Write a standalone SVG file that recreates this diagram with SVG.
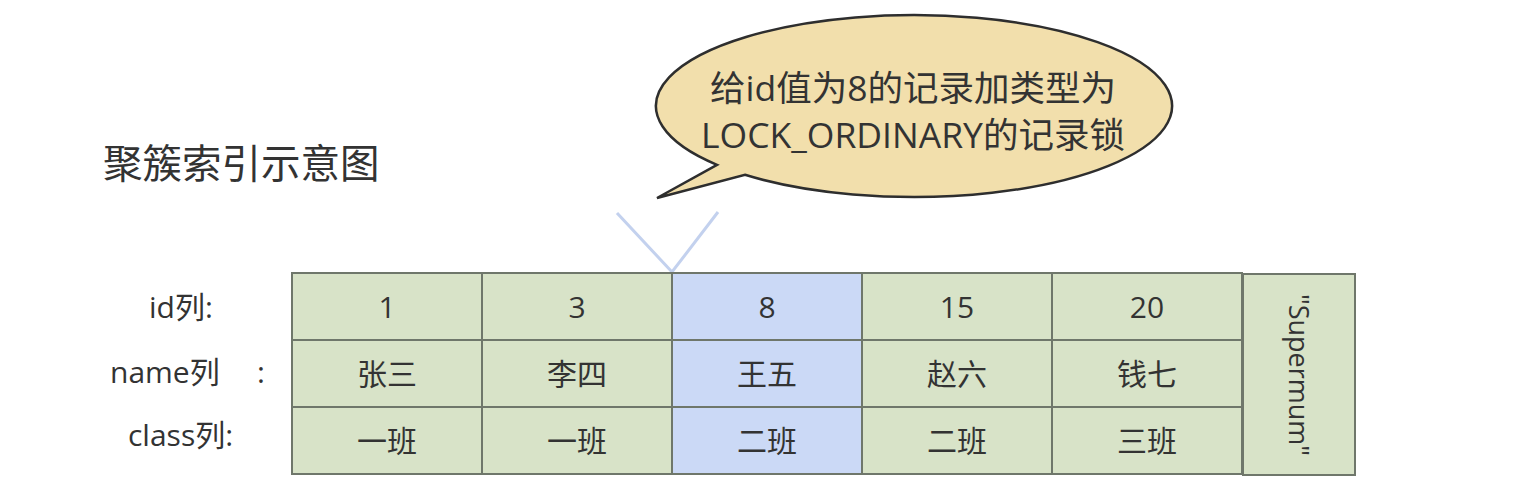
<svg xmlns="http://www.w3.org/2000/svg" width="1528" height="498" viewBox="0 0 1528 498">
<style>
text{font-family:"Open Sans","Noto Sans CJK SC",sans-serif;fill:#333;}
.t{font-size:30px;text-anchor:middle;}
.l{font-size:30px;}
.g{fill:#d8e3c8;stroke:#6f776b;stroke-width:2;}
.b{fill:#cbd9f6;stroke:#6f776b;stroke-width:2;}
</style>
<rect width="1528" height="498" fill="#fff"/>
<text x="103" y="178" style="font-size:39.5px;">聚簇索引示意图</text>
<g id="bubble">
<path d="M717,164.8 A258 91 0 1 1 745,174.8 L657,198 Z" fill="#f2dfac" stroke="#2e2e2e" stroke-width="2.5"/>
<text class="t" x="913" y="101" style="font-size:35.5px;">给id值为8的记录加类型为</text>
<text class="t" x="913" y="148" style="font-size:35.5px;">LOCK_ORDINARY的记录锁</text>
</g>
<g id="connectors">
<path d="M617,213 L672,272 L718,212" fill="none" stroke="#c3d1ee" stroke-width="3"/>
</g>
<g id="labels">
<text class="l" x="149" y="318">id列:</text>
<text class="l" x="110" y="383">name列</text>
<text class="l" x="257" y="383">:</text>
<text class="l" x="128" y="446">class列:</text>
</g>
<g id="col1">
<rect class="g" x="292" y="273" width="190" height="67"/>
<rect class="g" x="292" y="340" width="190" height="67"/>
<rect class="g" x="292" y="407" width="190" height="67"/>
<text class="t" x="387" y="318">1</text>
<text class="t" x="387" y="385">张三</text>
<text class="t" x="387" y="452">一班</text>
</g>
<g id="col3">
<rect class="g" x="482" y="273" width="190" height="67"/>
<rect class="g" x="482" y="340" width="190" height="67"/>
<rect class="g" x="482" y="407" width="190" height="67"/>
<text class="t" x="577" y="318">3</text>
<text class="t" x="577" y="385">李四</text>
<text class="t" x="577" y="452">一班</text>
</g>
<g id="col8">
<rect class="b" x="672" y="273" width="190" height="67"/>
<rect class="b" x="672" y="340" width="190" height="67"/>
<rect class="b" x="672" y="407" width="190" height="67"/>
<text class="t" x="767" y="318">8</text>
<text class="t" x="767" y="385">王五</text>
<text class="t" x="767" y="452">二班</text>
</g>
<g id="col15">
<rect class="g" x="862" y="273" width="190" height="67"/>
<rect class="g" x="862" y="340" width="190" height="67"/>
<rect class="g" x="862" y="407" width="190" height="67"/>
<text class="t" x="957" y="318">15</text>
<text class="t" x="957" y="385">赵六</text>
<text class="t" x="957" y="452">二班</text>
</g>
<g id="col20">
<rect class="g" x="1052" y="273" width="190" height="67"/>
<rect class="g" x="1052" y="340" width="190" height="67"/>
<rect class="g" x="1052" y="407" width="190" height="67"/>
<text class="t" x="1147" y="318">20</text>
<text class="t" x="1147" y="385">钱七</text>
<text class="t" x="1147" y="452">三班</text>
</g>
<g id="supermum">
<rect class="g" x="1243" y="274" width="112" height="201"/>
<text class="t" transform="translate(1289,375) rotate(90)" x="0" y="0" style="font-size:27px;">"Supermum"</text>
</g>
</svg>
